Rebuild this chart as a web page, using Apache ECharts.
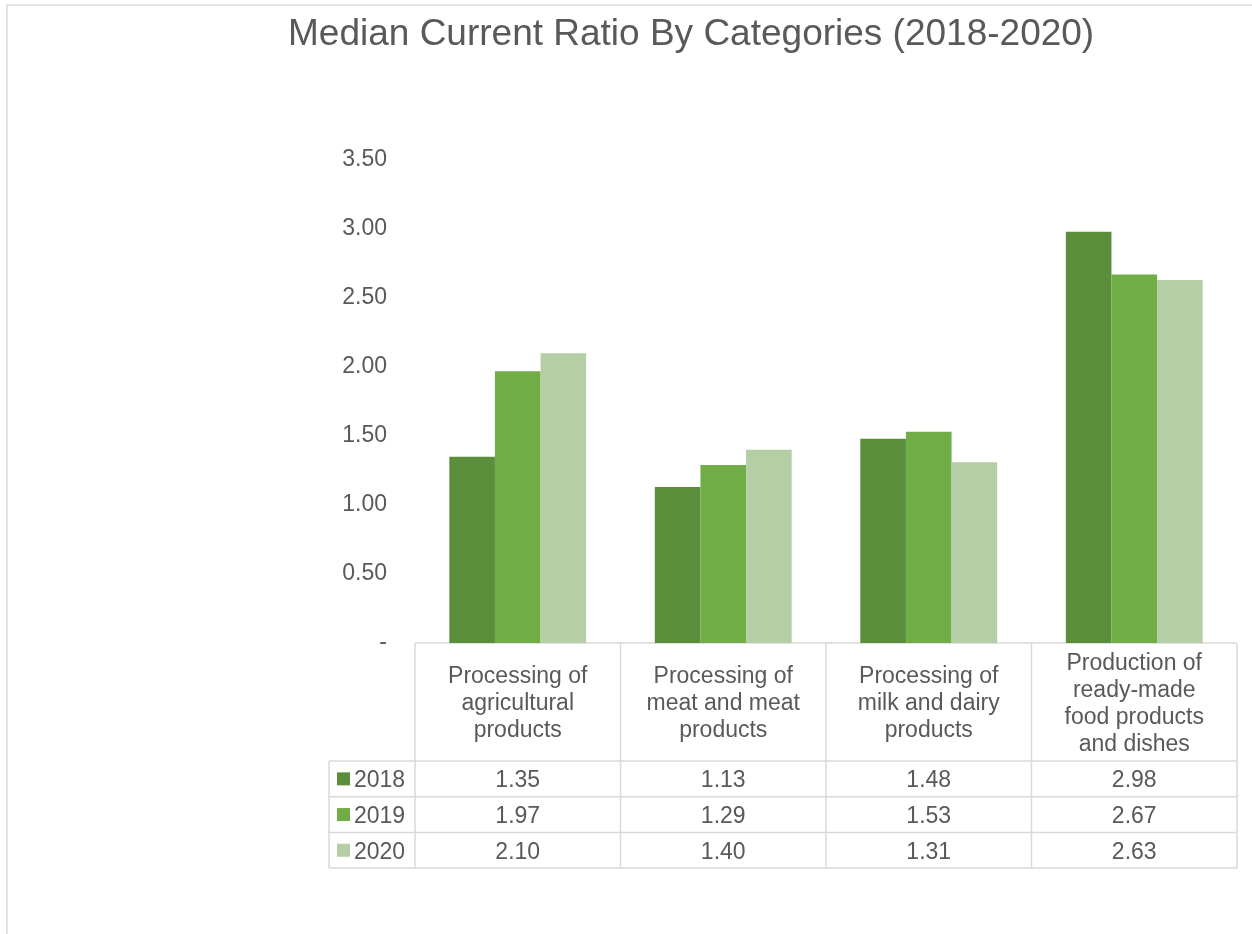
<!DOCTYPE html>
<html>
<head>
<meta charset="utf-8">
<script src="https://cdn.jsdelivr.net/npm/echarts@6/dist/echarts.min.js"></script>
<style>
html,body{margin:0;padding:0;background:#fff;}
#main{width:1252px;height:934px;}
</style>
</head>
<body>
<div id="main"></div>
<script>
// ---- data ----
const titleText = 'Median Current Ratio By Categories (2018-2020)';
const categories = [
  'Processing of\nagricultural\nproducts',
  'Processing of\nmeat and meat\nproducts',
  'Processing of\nmilk and dairy\nproducts',
  'Production of\nready-made\nfood products\nand dishes'
];
const years = ['2018', '2019', '2020'];
const values2018 = [1.35, 1.13, 1.48, 2.98];
const values2019 = [1.97, 1.29, 1.53, 2.67];
const values2020 = [2.10, 1.40, 1.31, 2.63];
const yMin = 0, yMax = 3.5, yStep = 0.5;

// ---- styles / layout ----
const colors = ['#5B8E3A', '#70AD47', '#B4CFA6'];
const textColor = '#595959';
const lineColor = '#D9D9D9';
const FONT = '"Liberation Sans", Arial, sans-serif';
const FS = 23;
const gridL = 415, gridR = 1237, gridT = 160, gridB = 643;
const W = 1252, H = 934;
const headerBottom = 761, rowH = 35.7;
const legendColL = 329;

const seriesValues = [values2018, values2019, values2020];

const chart = echarts.init(document.getElementById('main'), null, {renderer: 'canvas'});

const option = {
  animation: false,
  backgroundColor: '#ffffff',
  color: colors,
  title: {
    text: titleText,
    left: 283,
    top: 11,
    textStyle: {fontFamily: FONT, fontSize: 37, fontWeight: 'normal', color: textColor}
  },
  grid: {left: gridL, right: W - gridR, top: gridT, bottom: H - gridB, containLabel: false},
  xAxis: {
    type: 'category',
    data: categories,
    axisLine: {show: false},
    axisTick: {show: false},
    axisLabel: {show: false},
    splitLine: {show: false}
  },
  yAxis: {
    type: 'value',
    min: yMin, max: yMax, interval: yStep,
    axisLine: {show: false},
    axisTick: {show: false},
    splitLine: {show: false},
    axisLabel: {
      margin: 28,
      padding: [4, 0, 0, 0],
      color: textColor,
      fontFamily: FONT,
      fontSize: FS,
      formatter: function (v) { return v === 0 ? '-' : v.toFixed(2); }
    }
  },
  series: years.map(function (y, i) {
    return {
      name: y,
      type: 'bar',
      data: seriesValues[i],
      barWidth: '22.2%',
      barGap: '0%',
      itemStyle: {color: colors[i]}
    };
  })
};
chart.setOption(option);

// ---- data table drawn below the plot, built from the arrays ----
function buildTable() {
  const g = [];
  const colEdges = [];
  for (let i = 0; i <= categories.length; i++) {
    colEdges.push(gridL + (gridR - gridL) * i / categories.length);
  }
  const rowEdges = [headerBottom];
  for (let r = 1; r <= years.length; r++) rowEdges.push(headerBottom + rowH * r);
  const tableBottom = rowEdges[rowEdges.length - 1];
  const ln = function (x1, y1, x2, y2) {
    g.push({type: 'line', silent: true, shape: {x1: x1, y1: y1, x2: x2, y2: y2},
      style: {stroke: lineColor, lineWidth: 1.5}});
  };
  // chart area border (left and top visible)
  ln(7, 5, 7, H);
  ln(7, 5, W, 5);
  // top line of table (axis line)
  ln(gridL, gridB, gridR, gridB);
  // vertical lines
  colEdges.forEach(function (x) { ln(x, gridB, x, tableBottom); });
  ln(legendColL, headerBottom, legendColL, tableBottom);
  // horizontal row lines
  rowEdges.forEach(function (y) { ln(legendColL, y, gridR, y); });

  // header texts
  categories.forEach(function (c, i) {
    const cx = chart.convertToPixel({xAxisIndex: 0}, i);
    g.push({type: 'text', silent: true, x: cx, y: (gridB + headerBottom) / 2 + 2,
      style: {text: c, fill: textColor, fontFamily: FONT, fontSize: FS, lineHeight: 27,
        align: 'center', verticalAlign: 'middle'}});
  });
  // rows
  years.forEach(function (y, r) {
    const cy = headerBottom + rowH * (r + 0.5);
    g.push({type: 'rect', silent: true, shape: {x: 337, y: cy - 6.5, width: 13, height: 13},
      style: {fill: colors[r]}});
    g.push({type: 'text', silent: true, x: 354, y: cy + 2,
      style: {text: y, fill: textColor, fontFamily: FONT, fontSize: FS,
        align: 'left', verticalAlign: 'middle'}});
    seriesValues[r].forEach(function (v, i) {
      const cx = chart.convertToPixel({xAxisIndex: 0}, i);
      g.push({type: 'text', silent: true, x: cx, y: cy + 2,
        style: {text: v.toFixed(2), fill: textColor, fontFamily: FONT, fontSize: FS,
          align: 'center', verticalAlign: 'middle'}});
    });
  });
  return g;
}
chart.setOption({graphic: buildTable()});
</script>
</body>
</html>
